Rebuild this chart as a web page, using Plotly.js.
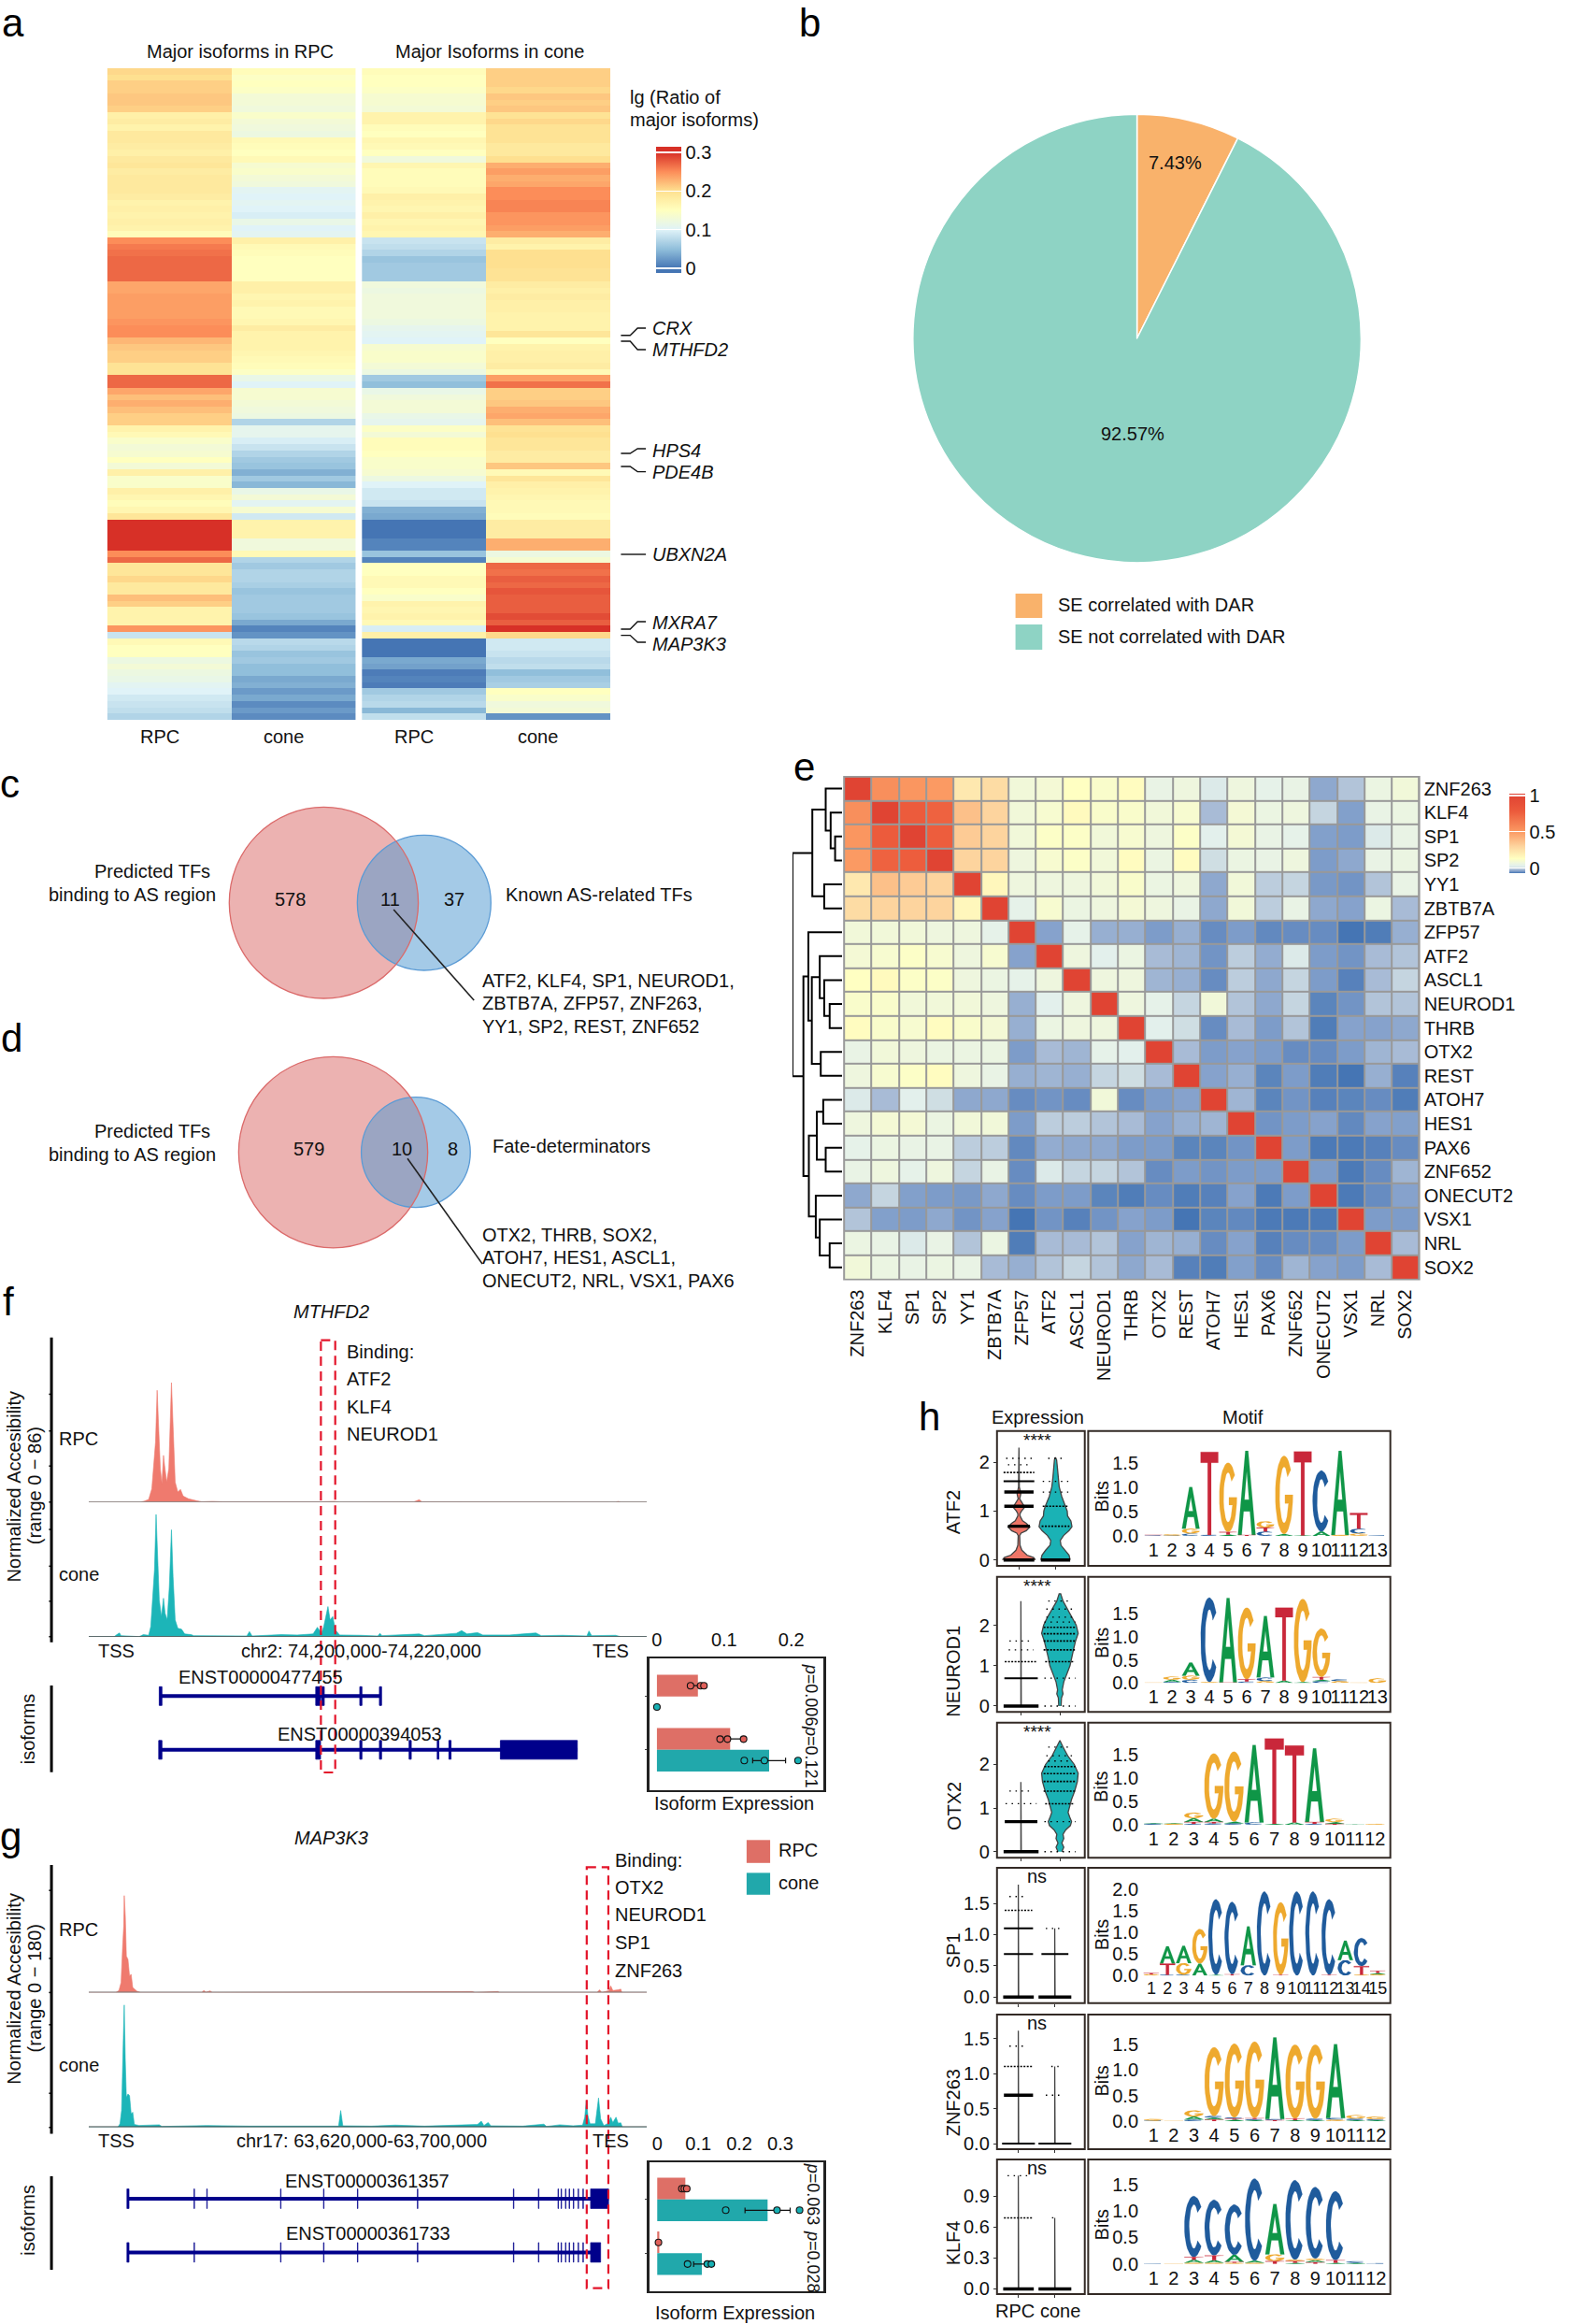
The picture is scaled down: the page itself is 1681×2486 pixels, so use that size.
<!DOCTYPE html>
<html><head><meta charset="utf-8">
<script src="https://cdn.plot.ly/plotly-3.0.1.min.js"></script>
<style>html,body{margin:0;padding:0;background:#fff}#g{width:1681px;height:2486px}</style>
</head><body><div id="g"></div>
<script>
// ---------- panel a ----------
const isoRpcInRpc=[.205,.2,.21,.21,.215,.215,.21,.175,.18,.17,.185,.185,.18,.175,.185,.19,.18,.185,.185,.185,.18,.17,.175,.17,.175,.17,.155,
.25,.26,.265,.27,.27,.27,.27,.235,.235,.24,.24,.24,.24,.245,.25,.25,.225,.215,.21,.21,.195,.195,.27,.27,.235,.22,.23,.22,.21,.21,
.17,.16,.14,.13,.135,.15,.13,.175,.14,.14,.175,.165,.155,.165,.19,.3,.3,.3,.3,.3,.25,.27,.19,.19,.205,.185,.185,.22,.21,.17,.17,.17,.245,.085,
.16,.15,.15,.12,.13,.12,.115,.105,.1,.09,.085,.08,.07];
const isoConeInRpc=[.155,.145,.15,.145,.13,.13,.125,.14,.13,.125,.12,.16,.155,.15,.16,.135,.14,.13,.125,.105,.1,.105,.1,.095,.115,.1,.105,
.175,.16,.155,.15,.15,.15,.15,.175,.175,.165,.17,.16,.16,.165,.18,.17,.17,.17,.165,.16,.155,.145,.115,.1,.135,.135,.13,.125,.12,.07,
.11,.11,.095,.085,.07,.06,.055,.04,.06,.045,.115,.13,.105,.135,.09,.17,.17,.17,.125,.125,.16,.07,.06,.07,.07,.065,.055,.06,.06,.06,.055,.035,.01,.02,
.075,.07,.055,.06,.05,.05,.035,.04,.025,.035,.015,.025,.015];
const isoRpcInCone=[.155,.15,.15,.145,.135,.135,.13,.17,.17,.155,.15,.165,.16,.15,.125,.165,.155,.155,.155,.16,.175,.17,.165,.175,.165,.17,.165,
.085,.08,.07,.055,.06,.06,.06,.125,.12,.125,.125,.125,.125,.12,.11,.105,.1,.135,.14,.14,.13,.12,.06,.05,.115,.125,.13,.13,.115,.11,
.145,.13,.155,.155,.15,.14,.14,.135,.12,.1,.09,.09,.085,.04,.035,0,0,0,.01,.01,.055,.01,.15,.15,.16,.16,.15,.14,.17,.165,.17,.16,.095,.175,
0,0,0,.035,.03,.005,.01,.005,.06,.07,.075,.045,.08];
const isoConeInCone=[.21,.21,.21,.205,.215,.21,.215,.195,.205,.195,.195,.195,.185,.185,.2,.23,.24,.23,.235,.25,.25,.255,.255,.245,.245,.24,.23,
.18,.17,.2,.2,.2,.195,.195,.18,.175,.18,.175,.175,.17,.17,.17,.19,.15,.17,.175,.175,.18,.16,.24,.265,.21,.21,.215,.23,.235,.22,
.195,.2,.19,.19,.18,.18,.215,.16,.19,.175,.17,.165,.16,.16,.155,.18,.18,.18,.23,.23,.12,.135,.27,.265,.275,.27,.28,.275,.275,.275,.285,.275,.3,.205,
.09,.09,.085,.075,.08,.05,.06,.065,.15,.14,.125,.13,.02];
const heatAColumns=['RPC','cone'];
const heatATicks=[0,0.1,0.2,0.3];
const heatATickText=['0','0.1','0.2','0.3'];
// ---------- panel b ----------
const pieValues=[7.43,92.57];
const pieNames=['SE correlated with DAR','SE not correlated with DAR'];
// ---------- panel e ----------
const tfNames=['ZNF263','KLF4','SP1','SP2','YY1','ZBTB7A','ZFP57','ATF2','ASCL1','NEUROD1','THRB','OTX2','REST','ATOH7','HES1','PAX6','ZNF652','ONECUT2','VSX1','NRL','SOX2'];
const tfCorr=[
[1,.55,.52,.5,.22,.27,.08,.09,.13,.11,.14,.05,.07,.02,.07,.04,.05,-.035,-.015,.06,.08],
[.55,1,.78,.75,.37,.3,.08,.1,.15,.11,.11,.08,.1,-.02,.09,.06,.07,-.005,-.042,.05,.06],
[.52,.78,1,.77,.33,.3,.08,.12,.12,.08,.1,.07,.12,.03,.09,.05,.04,-.042,-.045,.02,.05],
[.5,.75,.77,1,.3,.3,.07,.1,.12,.08,.14,.06,.14,0,.06,.05,.07,-.045,-.035,.05,.06],
[.22,.37,.33,.3,1,.16,.07,.07,.07,.08,.11,.06,.07,-.035,.08,-.01,-.005,-.047,-.05,-.015,.05],
[.27,.3,.3,.3,.16,1,.04,.1,.06,.07,.09,.07,.05,-.035,.08,-.01,.05,-.035,-.04,.06,-.02],
[.08,.08,.08,.07,.07,.04,1,-.04,.04,-.03,-.03,-.045,-.03,-.055,-.045,-.057,-.055,-.055,-.07,-.065,-.03],
[.09,.1,.12,.1,.07,.1,-.04,1,.07,.03,.06,-.02,-.025,-.05,-.01,-.032,.02,-.045,-.05,-.02,-.015],
[.13,.15,.12,.12,.07,.06,.04,.07,1,.07,.07,-.025,-.03,-.055,-.01,-.035,-.005,-.045,-.062,-.02,-.005],
[.11,.11,.08,.08,.08,.07,-.03,.03,.07,1,.07,.04,-.005,.08,-.015,-.035,-.005,-.06,-.05,-.015,-.015],
[.14,.11,.1,.14,.11,.09,-.03,.06,.07,.07,1,.03,0,-.055,-.02,-.045,-.015,-.065,-.04,-.04,-.035],
[.05,.08,.07,.06,.06,.06,-.045,-.02,-.025,.04,.03,1,-.02,-.045,-.04,-.045,-.055,-.055,-.045,-.025,-.02],
[.07,.1,.12,.14,.07,.05,-.03,-.025,-.03,-.005,0,-.02,1,-.04,-.03,-.06,-.045,-.065,-.07,-.03,-.062],
[.02,-.02,.03,0,-.035,-.035,-.055,-.05,-.055,.08,-.055,-.045,-.04,1,-.025,-.06,-.05,-.062,-.06,-.055,-.065],
[.07,.09,.09,.06,.08,.08,-.045,-.01,-.01,-.015,-.02,-.04,-.03,-.025,1,-.05,-.045,-.04,-.057,-.04,-.042],
[.04,.06,.05,.05,-.01,-.01,-.057,-.032,-.035,-.035,-.045,-.045,-.06,-.06,-.05,1,-.045,-.067,-.067,-.062,-.055],
[.05,.07,.04,.07,-.005,.05,-.055,.02,-.005,-.005,-.015,-.055,-.045,-.05,-.045,-.045,1,-.045,-.067,-.055,-.025],
[-.035,-.005,-.042,-.045,-.047,-.035,-.055,-.045,-.045,-.06,-.065,-.055,-.065,-.062,-.04,-.067,-.045,1,-.067,-.055,-.04],
[-.015,-.042,-.045,-.035,-.05,-.04,-.07,-.05,-.062,-.05,-.04,-.045,-.07,-.06,-.057,-.067,-.067,-.067,1,-.045,-.045],
[.06,.05,.02,.05,-.015,.06,-.065,-.02,-.02,-.015,-.04,-.025,-.03,-.055,-.04,-.062,-.055,-.055,-.045,1,-.02],
[.08,.06,.05,.06,.05,-.02,-.03,-.015,-.005,-.015,-.035,-.02,-.062,-.065,-.042,-.055,-.025,-.04,-.045,-.02,1]];
const tfMerges=[[2,3,.14],[1,21,.23],[0,22,.33],[4,5,.36],[23,24,.6],[9,10,.25],[8,26,.36],[7,27,.45],[11,12,.43],[28,29,.61],[6,30,.68],[13,14,.38],[15,16,.33],[32,33,.51],[19,20,.25],[18,35,.45],[17,36,.53],[34,37,.67],[31,38,.78],[25,39,1]];
// ---------- panels f, g tracks (position along the locus, signal) ----------
const fRpcPos=[167,265,272,280,286,290,293,296,299,302,305,308,310,314,318,323,326,330,335,340,345,355,370,380,400,420,600,620,630,640,780,790,795,1160,1165,1170,1219];
const fRpcSig=[0,0,3,8,40,110,180,335,200,100,55,140,110,60,100,358,230,60,30,38,18,10,4,1,2,1,1,3,2,0,1,7,1,0,2,0,0];
const fConePos=[167,215,220,225,228,262,270,280,284,288,291,294,297,300,304,308,311,315,319,323,326,330,335,342,348,360,365,385,400,465,470,475,530,560,590,598,606,610,614,618,622,627,632,640,680,712,716,720,790,800,860,870,880,900,910,960,985,1010,1020,1060,1106,1110,1115,1160,1170,1219];
const fConeSig=[0,0,6,11,3,0,6,4,30,120,200,366,220,110,60,115,70,50,150,320,180,50,25,22,8,6,3,3,3,2,15,2,6,5,8,28,10,30,60,90,50,60,20,5,4,2,10,3,8,3,10,18,8,12,5,5,8,11,3,4,2,17,3,4,0,0];
const gRpcPos=[167,218,224,228,231,233,234,236,238,241,244,247,250,258,265,380,384,388,396,400,890,895,938,942,1125,1130,1134,1148,1151,1155,1165,1170,1172,1219];
const gRpcSig=[0,0,6,30,140,200,293,230,110,100,50,55,15,4,0,0,6,1,5,0,3,0,3,0,0,8,0,6,20,6,8,10,0,0];
const gConePos=[167,222,226,229,232,234,236,238,241,244,247,250,253,262,300,305,390,470,600,638,642,646,700,745,800,885,900,907,912,920,925,985,1025,1030,1055,1080,1098,1102,1105,1108,1112,1122,1128,1132,1138,1147,1151,1155,1161,1165,1170,1173,1219];
const gConeSig=[0,0,10,50,250,369,200,90,100,95,40,45,8,5,7,2,5,3,3,3,50,4,3,6,3,6,8,18,5,14,4,3,9,2,7,4,6,30,80,35,10,10,88,25,5,12,30,14,30,12,13,0,0];
// gene models
const f1Intron=[303,717]; const f1Exons=[[300,305],[595,604],[606,611],[678,682],[715,719]];
const f2Intron=[302,1088]; const f2Exons=[[299,305],[595,604],[678,682],[715,719],[771,775],[824,827],[846,850],[943,1088]];
const g1Intron=[241,1147]; const g1Exons=[[239,243],[365.5,366.5],[389.5,390.5],[528.5,529.5],[609.5,610.5],[673.5,674.5],[786.5,787.5],[967.5,968.5],[1014.5,1015.5],[1051.5,1052.5],[1057.5,1058.5],[1065.5,1066.5],[1072.5,1073.5],[1080.5,1081.5],[1089.5,1090.5],[1098.5,1099.5],[1113,1147]];
const g2Intron=[241,1130]; const g2Exons=[[239,243],[365.5,366.5],[528.5,529.5],[609.5,610.5],[673.5,674.5],[786.5,787.5],[967.5,968.5],[1014.5,1015.5],[1051.5,1052.5],[1057.5,1058.5],[1065.5,1066.5],[1072.5,1073.5],[1080.5,1081.5],[1089.5,1090.5],[1098.5,1099.5],[1113,1132]];
// isoform expression bars
const fBarRpc=[.061,.109], fBarCone=[0,.167], fErrRpc=[.008,.017], fErrCone=[0,.0245];
const fPtsRpc=[[1,.05],[1,.065],[1,.07],[2,.094],[2,.105],[2,.129]], fPtsCone=[[1,0],[2,.13],[2,.16],[2,.21]];
const gBarRpc=[.0685,.005], gBarCone=[.269,.1087], gErrRpc=[.006,0], gErrCone=[.055,.02];
const gPtsRpc=[[1,.06],[1,.066],[1,.072],[2,.003]], gPtsCone=[[1,.167],[1,.292],[1,.347],[2,.074],[2,.122],[2,.132]];
// ---------- panel h violins [value, half width] ----------
const atf2Rpc=[[0,.45],[.05,.4],[.1,.22],[.2,.08],[.3,.03],[.5,.02],[.55,.06],[.6,.2],[.68,.3],[.75,.2],[.8,.1],[.9,.03],[.95,.03],[1,.07],[1.08,.16],[1.15,.1],[1.25,.02],[1.35,.05],[1.4,.04],[1.5,.01],[1.6,.01],[2.3,0]];
const atf2Cone=[[0,.4],[.1,.37],[.2,.27],[.3,.15],[.4,.13],[.5,.22],[.6,.37],[.68,.45],[.8,.42],[.9,.33],[1,.32],[1.1,.28],[1.3,.17],[1.5,.1],[1.7,.07],[1.9,.05],[2.05,.03],[2.1,0]];
const neurod1Rpc=[[0,.005],[2.6,.005]];
const neurod1Cone=[[0,.03],[.2,.04],[.3,.08],[.4,.06],[.6,.1],[.8,.18],[1,.26],[1.2,.3],[1.4,.35],[1.6,.4],[1.8,.47],[2,.42],[2.2,.32],[2.4,.2],[2.6,.08],[2.78,.02]];
const otx2Rpc=[[0,.005],[1.6,.005]];
const otx2Cone=[[0,.05],[.1,.1],[.2,.05],[.3,.1],[.4,.08],[.5,.15],[.6,.27],[.69,.3],[.8,.25],[.9,.21],[1.1,.27],[1.2,.3],[1.39,.38],[1.61,.45],[1.8,.47],[2,.37],[2.2,.2],[2.4,.08],[2.55,0]];
const sp1Rpc=[[0,.005],[1.8,.005]], sp1Cone=[[0,.005],[1.1,.005]];
const znf263Rpc=[[0,.005],[1.61,.005]], znf263Cone=[[0,.005],[1.1,.005]];
const klf4Rpc=[[0,.005],[1.1,.005]], klf4Cone=[[0,.005],[.69,.005]];
// strips of cells [value, half width, style]
const atf2RpcStrip=[[0,.42,0],[.69,.3,0],[1.1,.4,0],[1.39,.4,0],[1.61,.42,1],[1.79,.42,2],[1.95,.3,3],[2.08,.35,3]];
const atf2ConeStrip=[[0,.4,0],[.69,.38,2],[1.1,.35,2],[1.39,.35,3],[1.61,.35,3],[2.08,.2,3]];
const neurod1RpcStrip=[[0,.45,0],[.69,.43,1],[1.1,.42,2],[1.39,.32,3],[1.61,.3,3]];
const neurod1ConeStrip=[[0,.4,3],[.69,.4,3],[1.1,.38,2],[1.39,.42,2],[1.61,.42,2],[1.79,.42,2],[1.95,.42,2],[2.08,.4,3],[2.2,.35,3],[2.4,.35,3],[2.6,.3,3]];
const otx2RpcStrip=[[0,.45,0],[.69,.42,0],[1.1,.4,3],[1.39,.3,3]];
const otx2ConeStrip=[[0,.4,3],[.69,.4,3],[1.1,.38,2],[1.39,.42,2],[1.61,.42,2],[1.79,.42,2],[1.95,.4,2],[2.08,.3,3],[2.2,.35,3],[2.4,.3,3]];
const sp1RpcStrip=[[0,.42,0],[.69,.4,1],[1.1,.4,1],[1.39,.38,2],[1.61,.25,3]];
const sp1ConeStrip=[[0,.45,0],[.69,.37,1],[1.1,.25,3]];
const znf263RpcStrip=[[0,.45,1],[.69,.4,0],[1.1,.4,2],[1.39,.25,3]];
const znf263ConeStrip=[[0,.45,1],[.69,.25,3],[1.1,.1,3]];
const klf4RpcStrip=[[0,.42,0],[.69,.4,2],[1.1,.3,3]];
const klf4ConeStrip=[[0,.45,0],[.69,.08,3]];
// motif logos: stacks per position, bottom to top, [base, bits]
const logoATF2=[[['C',.01],['T',.01]],[['C',.01],['G',.02]],[['C',.05],['G',.1],['A',.85]],[['C',.02],['T',1.7]],[['A',.03],['T',.05],['G',1.42]],[['T',.02],['A',1.72]],[['C',.09],['T',.08],['G',.13]],[['A',.04],['G',1.6]],[['A',.01],['T',1.72]],[['A',.09],['C',1.25]],[['G',.02],['A',1.72]],[['G',.05],['C',.1],['T',.32]],[['C',.01]]];
const logoNEUROD1=[[['G',.01]],[['C',.02],['A',.05],['G',.07]],[['C',.07],['G',.09],['A',.28]],[['G',.02],['C',1.83]],[['T',.01],['A',1.83]],[['C',.03],['T',.05],['G',1.55]],[['G',.04],['C',.08],['A',1.33]],[['A',.05],['T',1.58]],[['A',.02],['G',1.8]],[['C',.04],['A',.03],['T',.06],['G',1.05]],[['G',.04],['C',.04]],[['G',.005]],[['G',.1]]];
const logoOTX2=[[['C',.02],['A',.01]],[['G',.02],['A',.01]],[['C',.02],['T',.04],['A',.08],['G',.12]],[['C',.03],['T',.03],['A',.07],['G',1.4]],[['C',.03],['A',.04],['G',1.5]],[['C',.05],['A',1.66]],[['A',.02],['T',1.83]],[['A',.05],['T',1.65]],[['C',.02],['T',.04],['A',1.58]],[['T',.02],['A',.04],['G',.07]],[['A',.005]],[['G',.015]]];
const logoSP1=[[['G',.03],['T',.03]],[['C',.02],['T',.26],['A',.4]],[['C',.02],['G',.27],['A',.4]],[['A',.28],['G',.8]],[['A',.02],['C',1.75]],[['T',.03],['C',1.68]],[['C',.24],['A',.9]],[['C',1.95]],[['T',.02],['G',1.68]],[['C',1.95]],[['C',1.95]],[['T',.02],['C',1.75]],[['C',.36],['A',.45]],[['G',.02],['T',.2],['C',.65]],[['G',.03],['A',.03],['T',.05]]];
const logoZNF263=[[['C',.01],['G',.03]],[['G',.005]],[['C',.03],['A',.06],['G',.12]],[['T',.03],['A',.04],['C',.03],['G',1.35]],[['A',.03],['T',.02],['C',.02],['G',1.45]],[['A',.02],['C',.02],['T',.02],['G',1.5]],[['T',.02],['C',.02],['A',1.6]],[['A',.02],['T',.03],['G',1.45]],[['A',.02],['C',.03],['G',1.45]],[['G',.03],['C',.03],['A',1.45]],[['A',.02],['C',.03],['G',.07]],[['A',.02],['C',.02],['G',.05]]];
const logoKLF4=[[['C',.005]],[['G',.005]],[['G',.02],['A',.06],['T',.05],['C',1.15]],[['G',.02],['A',.05],['T',.09],['C',1.05]],[['G',.02],['T',.02],['A',.13],['C',.95]],[['G',.02],['A',.04],['C',1.55]],[['T',.05],['G',.13],['A',.95]],[['A',.02],['T',.03],['G',.03],['C',1.5]],[['T',.03],['A',.04],['G',.03],['C',1.35]],[['A',.02],['T',.05],['C',1.3]],[['A',.02],['C',.03]],[['C',.01]]];

// ========= drawing =========
const W=1681,H=2486,FONT='Liberation Sans';
const traces=[],shapes=[],annotations=[];
const layout={width:W,height:H,margin:{l:0,r:0,t:0,b:0},paper_bgcolor:'#fff',plot_bgcolor:'rgba(0,0,0,0)',showlegend:false,barmode:'group',
 font:{family:FONT,size:20,color:'#111'},
 xaxis:{domain:[0,1],range:[0,W],visible:false,fixedrange:true},
 yaxis:{domain:[0,1],range:[H,0],visible:false,fixedrange:true},
 shapes,annotations};
let axN=1;
function axes(x0,x1,y0,y1,xo,yo){
 axN++;
 const base={showgrid:false,zeroline:false,ticks:'',showticklabels:false,showline:false,fixedrange:true,tickfont:{family:FONT,size:20,color:'#111'}};
 layout['xaxis'+axN]=Object.assign({},base,{domain:[x0/W,x1/W],anchor:'y'+axN},xo);
 layout['yaxis'+axN]=Object.assign({},base,{domain:[1-y1/H,1-y0/H],anchor:'x'+axN},yo);
 return {xaxis:'x'+axN,yaxis:'y'+axN};
}
function txt(x,y,text,size,anchor,extra){annotations.push(Object.assign({xref:'x',yref:'y',x,y,text,showarrow:false,xanchor:anchor||'left',yanchor:'middle',font:{family:FONT,size:size||20,color:'#111'},borderpad:0},extra||{}));}
function vtxt(x,y,text,size,angle){txt(x,y,text,size,'center',{textangle:angle===undefined?-90:angle});}
function pathShape(p,color,w,layer){shapes.push({type:'path',xref:'x',yref:'y',path:p,line:{color,width:w},layer:layer||'above'});}
function rectShape(x0,y0,x1,y1,o){shapes.push(Object.assign({type:'rect',xref:'x',yref:'y',x0,y0,x1,y1,layer:'above'},o));}
function lineShape(x0,y0,x1,y1,color,w){shapes.push({type:'line',xref:'x',yref:'y',x0,y0,x1,y1,line:{color,width:w},layer:'above'});}
function stops(list){const a=list[0][0],b=list[list.length-1][0];return list.map(s=>[(s[0]-a)/(b-a),s[1]]);}

// panel letters
[['a',14,24],['b',876,24],['c',11,838],['d',13,1110],['e',870,820],['f',9,1392],['g',12,1964],['h',1006,1515]].forEach(p=>txt(p[1],p[2],p[0],42,'center',{font:{family:FONT,size:42,color:'#000'}}));

// ---- a
const aMin=-.012,aMax=.3145;
const aScale=stops([[aMin,'#4575B4'],[0,'#4575B4'],[.05,'#91BFDB'],[.1,'#E0F3F8'],[.15,'#FFFFBF'],[.2,'#FEE090'],[.25,'#FC8D59'],[.3,'#D73027'],[aMax,'#D73027']]);
const rowsA=isoRpcInRpc.map((_,i)=>i);
[[116,385,isoRpcInRpc,isoConeInRpc,true],[391.6,660.5,isoRpcInCone,isoConeInCone,false]].forEach(p=>{
 const a=axes(p[0],p[1],73,770.4,{range:[-.5,1.5]},{range:[103.5,-.5]});
 traces.push(Object.assign({type:'heatmap',z:rowsA.map(i=>[p[2][i],p[3][i]]),x:[0,1],y:rowsA,zmin:aMin,zmax:aMax,colorscale:aScale,hoverinfo:'skip',
  showscale:p[4],colorbar:p[4]?{x:710/W,xanchor:'left',xpad:0,y:1-157/H,yanchor:'top',ypad:0,len:135,lenmode:'pixels',thickness:27,thicknessmode:'pixels',tickvals:heatATicks,ticktext:heatATickText,ticks:'inside',ticklen:27,tickcolor:'#fff',tickwidth:1.5,outlinewidth:0,tickfont:{family:FONT,size:20,color:'#111'}}:undefined},a));
});
txt(260,54.6,'Major isoforms in RPC',20,'center');txt(530,54.6,'Major Isoforms in cone',20,'center');
[[172.5,0],[307,1],[448,0],[582,1]].forEach(p=>txt(p[0],788,heatAColumns[p[1]],20,'center'));
txt(681,103.6,'lg (Ratio of',20);txt(681,128,'major isoforms)',20);
[['CRX',351,358.7,351],['MTHFD2',374,365,374],['HPS4',482,485,480],['PDE4B',504.6,499,504.6],['UBXN2A',593,593,593],['MXRA7',666,673,665],['MAP3K3',689,679.6,687]].forEach(g=>{
 txt(705,g[1],'<i>'+g[0]+'</i>',20);
 pathShape(`M 672 ${g[2]} L 682 ${g[2]} L 690 ${g[3]} L 699 ${g[3]}`,'#111',1.4);
});

// ---- b
traces.push({type:'pie',values:pieValues,labels:pieNames,sort:false,direction:'clockwise',rotation:0,textinfo:'none',hoverinfo:'skip',marker:{colors:['#F9B26B','#8ED3C4'],line:{color:'#fff',width:1.5}},domain:{x:[988/W,1473/W],y:[1-605/H,1-119/H]}});
txt(1272,174,pieValues[0]+'%',20,'center');txt(1226,464,pieValues[1]+'%',20,'center');
rectShape(1099,635,1128,661,{fillcolor:'#F9B26B',line:{width:0}});rectShape(1099,668,1128,695,{fillcolor:'#8ED3C4',line:{width:0}});
txt(1144,647,pieNames[0],20);txt(1144,681,pieNames[1],20);

// ---- c, d venn
function venn(cx1,cx2,cy,r1,r2,n,nx,ny,leader,lbl,lines,ly){
 shapes.push({type:'circle',xref:'x',yref:'y',x0:cx1-r1,x1:cx1+r1,y0:cy-r1,y1:cy+r1,fillcolor:'#ECB2B1',line:{width:0},layer:'above'});
 shapes.push({type:'circle',xref:'x',yref:'y',x0:cx2-r2,x1:cx2+r2,y0:cy-r2,y1:cy+r2,fillcolor:'rgba(80,153,209,.52)',line:{color:'#5B9BD5',width:1.3},layer:'above'});
 shapes.push({type:'circle',xref:'x',yref:'y',x0:cx1-r1,x1:cx1+r1,y0:cy-r1,y1:cy+r1,line:{color:'#DB6A6A',width:1.3},layer:'above'});
 n.forEach((v,i)=>txt(nx[i],ny,String(v),20,'center'));
 lineShape(leader[0],leader[1],leader[2],leader[3],'#222',1.6);
 lines.forEach((l,i)=>txt(521,ly[i],l,20));
}
venn(350.4,459,965.7,102.3,72.3,[578,11,37],[314,422,492],962,[426,973,513,1070],'',['ATF2, KLF4, SP1, NEUROD1,','ZBTB7A, ZFP57, ZNF263,','YY1, SP2, REST, ZNF652'],[1048.8,1073,1098]);
venn(360.6,450,1232.6,102.3,59,[579,10,8],[334,435,490],1228.6,[441,1239.3,522,1352],'',['OTX2, THRB, SOX2,','ATOH7, HES1, ASCL1,','ONECUT2, NRL, VSX1, PAX6'],[1320.5,1344.6,1369.5]);
txt(229,931.6,'Predicted TFs',20,'right');txt(235,956.5,'binding to AS region',20,'right');txt(546,956.5,'Known AS-related TFs',20);
txt(229,1209.9,'Predicted TFs',20,'right');txt(235,1234.7,'binding to AS region',20,'right');txt(532,1226,'Fate-determinators',20);

// ---- e
const eMin=-.07,eMax=1.026;
const eScale=stops([[eMin,'#4575B4'],[-.045,'#7D9CC9'],[-.02,'#A8BBD6'],[0,'#CFDEE3'],[.03,'#E3F0EC'],[.07,'#EEF6DE'],[.13,'#FFFFC2'],[.3,'#FDD49E'],[.5,'#FB9A63'],[.78,'#EC5B3C'],[eMax,'#DF4132']]);
rectShape(912.5,830,1537,1369.5,{fillcolor:'#999',line:{width:0},layer:'below'});
const eA=axes(913.5,1536,830.8,1368.5,{type:'category',showticklabels:true,tickangle:-90,ticklabelstandoff:6,categoryorder:'array',categoryarray:tfNames},{type:'category',showticklabels:true,side:'right',autorange:'reversed',ticklabelstandoff:4,categoryorder:'array',categoryarray:tfNames});
traces.push(Object.assign({type:'heatmap',z:tfCorr,x:tfNames,y:tfNames,zmin:eMin,zmax:eMax,colorscale:eScale,xgap:2,ygap:2,hoverinfo:'skip',showscale:true,
 colorbar:{x:1633/W,xanchor:'left',xpad:0,y:1-849/H,yanchor:'top',ypad:0,len:85.4,lenmode:'pixels',thickness:17,thicknessmode:'pixels',tickvals:[0,.5,1],ticktext:['0','0.5','1'],ticks:'inside',ticklen:17,tickcolor:'#fff',tickwidth:1.2,outlinewidth:0,tickfont:{family:FONT,size:20,color:'#111'}}},eA));
const dA=axes(857.7,911.3,830.8,1368.5,{range:[1,0]},{range:[20.5,-.5]});
(function(){
 const pos={};for(let i=0;i<tfNames.length;i++)pos[i]=[0,i];
 const xs=[],ys=[];
 tfMerges.forEach((m,k)=>{const a=pos[m[0]],b=pos[m[1]];xs.push(a[0],m[2],m[2],b[0],null);ys.push(a[1],a[1],b[1],b[1],null);pos[tfNames.length+k]=[m[2],(a[1]+b[1])/2];});
 traces.push(Object.assign({type:'scatter',mode:'lines',x:xs,y:ys,line:{color:'#000',width:2},hoverinfo:'skip'},dA));
})();

// ---- f, g
const RPCc='#DE6F66',CONEc='#21A8AB';
function track(pos,sig,y0,y1,maxZ,fill,base){
 const a=axes(96,700,y0,y1,{range:[167,1219]},{range:[0,maxZ]});
 traces.push(Object.assign({type:'scatter',mode:'lines',x:pos,y:sig,fill:'tozeroy',fillcolor:fill,line:{color:fill,width:.6},hoverinfo:'skip'},a));
 traces.push(Object.assign({type:'scatter',mode:'lines',x:[167,1219],y:[0,0],line:{color:base,width:1.6},hoverinfo:'skip',cliponaxis:false},a));
}
track(fRpcPos,fRpcSig,1479,1606.8,358,'#EF7A6E','#777');
track(fConePos,fConeSig,1620,1750.7,366,'#1CB5B8','#444');
track(gRpcPos,gRpcSig,2027.5,2131.4,293,'#EF7A6E','#777');
track(gConePos,gConeSig,2144.5,2275.4,369,'#1CB5B8','#444');
function gene(intron,exons,t,half,a,lw){
 traces.push(Object.assign({type:'scatter',mode:'lines',x:intron,y:[t,t],line:{color:'#00008B',width:4},hoverinfo:'skip'},a));
 const xs=[],ys=[];exons.forEach(e=>{xs.push(e[0],e[1],e[1],e[0],e[0],null);ys.push(t-half,t-half,t+half,t+half,t-half,null);});
 traces.push(Object.assign({type:'scatter',mode:'lines',x:xs,y:ys,fill:'toself',fillcolor:'#00008B',line:{color:'#00008B',width:lw},hoverinfo:'skip'},a));
}
const mF=axes(96,700,1785,1900,{range:[167,1219]},{range:[2.49,.49]});
gene(f1Intron,f1Exons,1,.174,mF,.8);gene(f2Intron,f2Exons,2,.174,mF,.8);
const mG=axes(96,700,2320,2430,{range:[167,1219]},{range:[2.359,.4425]});
gene(g1Intron,g1Exons,1,.183,mG,.6);gene(g2Intron,g2Exons,2,.183,mG,.6);
function bars(y0,y1,xr,yr,tv,bR,bC,eR,eC,pR,pC){
 const a=axes(702.6,891.5,y0,y1,{range:xr,side:'top',showticklabels:true,tickvals:tv,ticktext:tv.map(String),showline:true,mirror:true,linecolor:'#222',linewidth:2.4,ticklabelstandoff:3},
  {range:yr,showline:true,mirror:true,linecolor:'#222',linewidth:2.4,tickvals:[1,2],ticks:'outside',ticklen:2});
 traces.push(Object.assign({type:'bar',orientation:'h',y:[1,2],x:bR,marker:{color:RPCc},error_x:{type:'data',array:eR,color:'#111',thickness:1.2,width:3},hoverinfo:'skip'},a));
 traces.push(Object.assign({type:'bar',orientation:'h',y:[1,2],x:bC,marker:{color:CONEc},error_x:{type:'data',array:eC,color:'#111',thickness:1.2,width:3},hoverinfo:'skip'},a));
 traces.push(Object.assign({type:'scatter',mode:'markers',y:pR.map(p=>p[0]-.2),x:pR.map(p=>p[1]),marker:{size:7,color:'#E0605A',line:{color:'#111',width:1.1}},hoverinfo:'skip',cliponaxis:false},a));
 traces.push(Object.assign({type:'scatter',mode:'markers',y:pC.map(p=>p[0]+.2),x:pC.map(p=>p[1]),marker:{size:7,color:'#17B0B4',line:{color:'#111',width:1.1}},hoverinfo:'skip',cliponaxis:false},a));
}
layout.bargap=.19;
bars(1774.3,1914.6,[-.0115,.2483],[2.75,.294],[0,.1,.2],fBarRpc,fBarCone,fErrRpc,fErrCone,fPtsRpc,fPtsCone);
bars(2313,2450.6,[-.0196,.4059],[2.7,.309],[0,.1,.2,.3],gBarRpc,gBarCone,gErrRpc,gErrCone,gPtsRpc,gPtsCone);
// f text
txt(359,1403,'<i>MTHFD2</i>',20,'center');
vtxt(15,1589.6,'Normalized Accesibility',20);vtxt(37,1589.6,'(range 0 − 86)',20);
txt(63,1539,'RPC',20);txt(63,1683.6,'cone',20);
['Binding:','ATF2','KLF4','NEUROD1'].forEach((t,i)=>txt(374,[1445.7,1475,1504.6,1534.3][i],t,20));
txt(126,1765.7,'TSS',20,'center');txt(391,1765.7,'chr2: 74,200,000-74,220,000',20,'center');txt(661,1765.7,'TES',20,'center');
txt(282,1793.6,'ENST00000477455',20,'center');txt(389,1855,'ENST00000394053',20,'center');
vtxt(30,1849.6,'isoforms',20);
lineShape(55.7,1430.7,55.7,1756.8,'#000',3);lineShape(55.7,1803,55.7,1895.7,'#000',3);
[340,450,555,663,745,855,960,1066].forEach(z=>lineShape(53,1370+z/2.8,55.7,1370+z/2.8,'#000',1.5));
rectShape(347.3,1433.6,362.8,1896,{line:{color:'#E3142A',width:2.2,dash:'10px,6px'}});
vtxt(878,1812.9,'<i>p</i>=0.006',18,90);vtxt(878,1879,'<i>p</i>=0.121',18,90);
txt(794,1929,'Isoform Expression',20,'center');
// g text
txt(359,1966,'<i>MAP3K3</i>',20,'center');
vtxt(15,2126.8,'Normalized Accesibility',20);vtxt(37,2126.8,'(range 0 − 180)',20);
txt(63,2064,'RPC',20);txt(63,2209.4,'cone',20);
['Binding:','OTX2','NEUROD1','SP1','ZNF263'].forEach((t,i)=>txt(664.8,[1989.6,2018.7,2048.4,2078,2108][i],t,20));
txt(126,2290.3,'TSS',20,'center');txt(391,2290.3,'chr17: 63,620,000-63,700,000',20,'center');txt(661,2290.3,'TES',20,'center');
txt(397,2332.5,'ENST00000361357',20,'center');txt(398,2389,'ENST00000361733',20,'center');
vtxt(30,2375,'isoforms',20);
lineShape(55.7,1994.9,55.7,2282.5,'#000',3);lineShape(55.7,2327.9,55.7,2428,'#000',3);
[260,465,568,665,872,975].forEach(z=>lineShape(53,1930+z/2.82,55.7,1930+z/2.82,'#000',1.5));
rectShape(635,1997.4,658.4,2447.7,{line:{color:'#E3142A',width:2.2,dash:'10px,6px'}});
vtxt(880,2346.7,'<i>p</i>=0.063',18,90);vtxt(880,2419,'<i>p</i>=0.028',18,90);
txt(795,2474,'Isoform Expression',20,'center');
rectShape(808,1968.3,833.5,1992.8,{fillcolor:RPCc,line:{width:0}});rectShape(808,2003.4,833.5,2026.8,{fillcolor:CONEc,line:{width:0}});
txt(841.6,1979,'RPC',20);txt(841.6,2014.4,'cone',20);

// ---- h
const stripStyle=[{width:3.4,dash:'solid'},{width:2,dash:'solid'},{width:1.6,dash:'2px,1.5px'},{width:1.3,dash:'1.5px,5px'}];
function violin(y0,y1,xr,yr,tv,fmt,name,ny,mark,markY,rpc,cone,rs,cs){
 const a=axes(1079,1174,y0,y1,{range:xr,tickvals:[0,1],ticks:'outside',ticklen:3,tickcolor:'#333'},
  {range:yr,tickvals:tv,ticktext:tv.map(v=>fmt?v.toFixed(1):String(v)),showticklabels:true,ticks:'outside',ticklen:3,tickcolor:'#333'});
 [[rpc,0,'#EE7567'],[cone,1,'#1AB2B5']].forEach(v=>{
  const xs=[],ys=[];
  v[0].forEach(p=>{xs.push(v[1]-p[1]);ys.push(p[0]);});
  v[0].slice().reverse().forEach(p=>{xs.push(v[1]+p[1]);ys.push(p[0]);});
  traces.push(Object.assign({type:'scatter',mode:'lines',x:xs,y:ys,fill:'toself',fillcolor:v[2],line:{color:'#444',width:1.3},hoverinfo:'skip'},a));
 });
 [[rs,0],[cs,1]].forEach(v=>{
  stripStyle.forEach((st,si)=>{
   const xs=[],ys=[];
   v[0].filter(s=>s[2]===si).forEach(s=>{xs.push(v[1]-s[1],v[1]+s[1],null);ys.push(s[0],s[0],null);});
   if(xs.length)traces.push(Object.assign({type:'scatter',mode:'lines',x:xs,y:ys,line:{color:'#000',width:st.width,dash:st.dash},hoverinfo:'skip'},a));
  });
 });
 rectShape(1079,y0,1174,y1,{line:{color:'#332a25',width:2}});
 vtxt(1032,ny,name,20);
 txt(1122.3,markY,mark,mark==='ns'?20:19,'center');
}
violin(1530.7,1675,[-.6,1.8],[-.12,2.64],[0,1,2],false,'ATF2',1618,'****',1540,atf2Rpc,atf2Cone,atf2RpcStrip,atf2ConeStrip);
violin(1686.7,1831.3,[-.62,1.64],[-.146,3.2],[0,1,2],false,'NEUROD1',1787.3,'****',1696,neurod1Rpc,neurod1Cone,neurod1RpcStrip,neurod1ConeStrip);
violin(1842.7,1987.3,[-.62,1.64],[-.14,2.96],[0,1,2],false,'OTX2',1931.7,'****',1852,otx2Rpc,otx2Cone,otx2RpcStrip,otx2ConeStrip);
violin(1998,2142.7,[-.59,1.82],[-.096,2.07],[0,.5,1,1.5],true,'SP1',2086,'ns',2007,sp1Rpc,sp1Cone,sp1RpcStrip,sp1ConeStrip);
violin(2155,2299,[-.59,1.82],[-.08,1.84],[0,.5,1,1.5],true,'ZNF263',2249,'ns',2164,znf263Rpc,znf263Cone,znf263RpcStrip,znf263ConeStrip);
violin(2310,2454,[-.59,1.82],[-.05,1.257],[0,.3,.6,.9],true,'KLF4',2399,'ns',2319,klf4Rpc,klf4Cone,klf4RpcStrip,klf4ConeStrip);
txt(1123,1515.7,'Expression',20,'center');txt(1345,1515.7,'Motif',20,'center');
txt(1098,2471.7,'RPC',20,'center');txt(1147.7,2471.7,'cone',20,'center');

// letter outlines in a unit box
function arc(rx,ry,a0,a1,n){const o=[];for(let i=0;i<=n;i++){const t=(a0+(a1-a0)*i/n)*Math.PI/180;o.push([.5+rx*Math.cos(t),.5+ry*Math.sin(t)]);}return o;}
const GLYPH={
 T:[[[0,1],[1,1],[1,.87],[.6,.87],[.6,0],[.4,0],[.4,.87],[0,.87]]],
 A:[[[0,0],[.42,1],[.58,1],[1,0],[.79,0],[.68,.28],[.32,.28],[.21,0]],[[.37,.42],[.63,.42],[.5,.76]]],
 C:[arc(.5,.5,40,320,30).concat(arc(.25,.36,320,40,24))],
 G:[arc(.5,.5,40,360,32).concat([[.55,.5],[.55,.39],[.76,.39]],arc(.26,.36,340,40,20))]
};
const BASEc={A:'#0F9647',C:'#1F5B9C',G:'#EEA92E',T:'#C9273A'};
function logo(stacks,y0,y1,yBase,first,unit,maxBits,tv){
 const xl=(1236-first)/unit+1,xr=(1504-first)/unit+1;
 const a=axes(1236,1504,y0,yBase,{range:[xl,xr],tickangle:0,tickvals:stacks.map((_,i)=>i+1),ticktext:stacks.map((_,i)=>String(i+1)),showticklabels:true,ticklabelstandoff:1,tickfont:{family:FONT,size:stacks.length>13?18:20,color:'#111'}},
  {range:[0,maxBits],tickvals:tv,ticktext:tv.map(v=>v.toFixed(1)),showticklabels:true,ticklabelstandoff:3});
 const by={A:[[],[]],C:[[],[]],G:[[],[]],T:[[],[]]};
 stacks.forEach((st,i)=>{let b=0;st.forEach(s=>{
  GLYPH[s[0]].forEach(poly=>{poly.forEach(p=>{by[s[0]][0].push(i+1-.47+.94*p[0]);by[s[0]][1].push(b+s[1]*p[1]);});
   by[s[0]][0].push(i+1-.47+.94*poly[0][0]);by[s[0]][1].push(b+s[1]*poly[0][1]);
   by[s[0]][0].push(null);by[s[0]][1].push(null);});
  b+=s[1];});});
 Object.keys(by).forEach(k=>{if(by[k][0].length)traces.push(Object.assign({type:'scatter',mode:'lines',x:by[k][0],y:by[k][1],fill:'toself',fillcolor:BASEc[k],line:{color:BASEc[k],width:.2},hoverinfo:'skip',cliponaxis:false},a));});
 rectShape(1177.7,y0,1504.7,y1,{line:{color:'#332a25',width:2}});
 vtxt(1192,(y0+yBase)/2+14,'Bits',20);
}
const bitTicks=[0,.5,1,1.5];
logo(logoATF2,1530.7,1675,1643,1248.3,20.2,2.15,bitTicks);
logo(logoNEUROD1,1686.7,1831.3,1800.3,1248.3,20.2,2.3,bitTicks);
logo(logoOTX2,1842.7,1987.3,1952,1248.3,21.8,2.19,bitTicks);
logo(logoSP1,1998,2142.7,2113.3,1246,17.5,2.5,[0,.5,1,1.5,2]);
logo(logoZNF263,2155,2299,2269,1248.3,21.9,2.09,bitTicks);
logo(logoKLF4,2310,2454,2421.7,1248.3,21.9,1.97,bitTicks);

Plotly.newPlot('g',traces,layout,{staticPlot:true,displayModeBar:false});
</script></body></html>
